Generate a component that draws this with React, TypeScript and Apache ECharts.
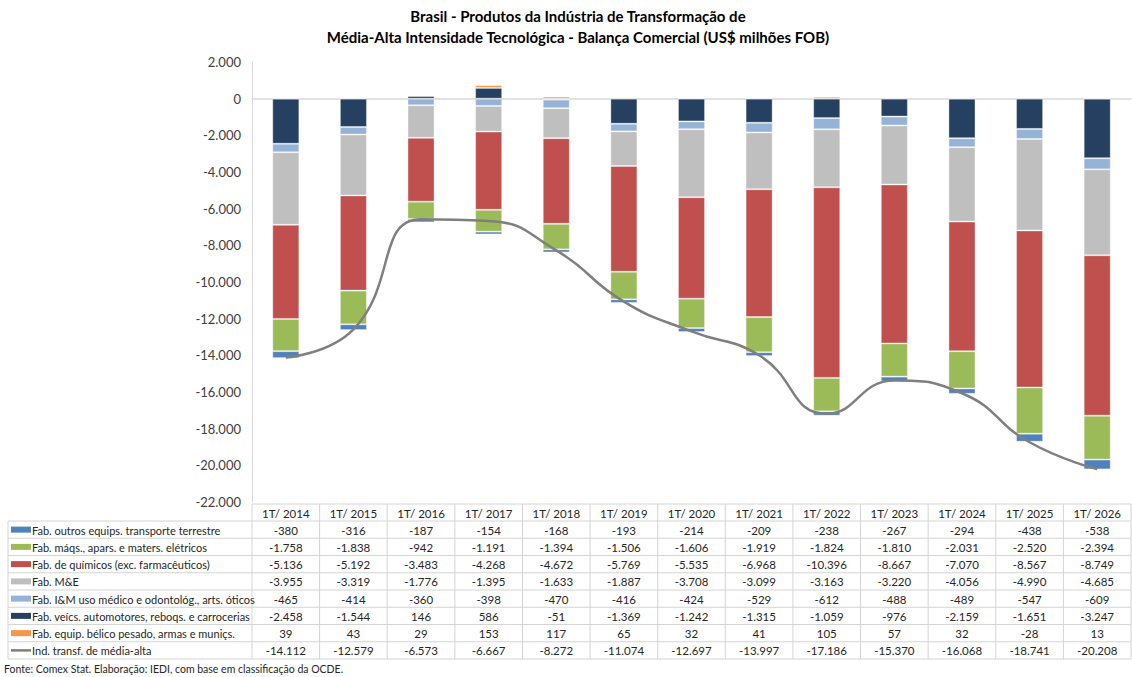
import React, { useEffect, useRef } from "react";
import * as echarts from "echarts";

const categories = ["1T/ 2014", "1T/ 2015", "1T/ 2016", "1T/ 2017", "1T/ 2018", "1T/ 2019", "1T/ 2020", "1T/ 2021", "1T/ 2022", "1T/ 2023", "1T/ 2024", "1T/ 2025", "1T/ 2026"];

const outrosTransp = [-380, -316, -187, -154, -168, -193, -214, -209, -238, -267, -294, -438, -538];
const maqsEletricos = [-1758, -1838, -942, -1191, -1394, -1506, -1606, -1919, -1824, -1810, -2031, -2520, -2394];
const quimicos = [-5136, -5192, -3483, -4268, -4672, -5769, -5535, -6968, -10396, -8667, -7070, -8567, -8749];
const mEe = [-3955, -3319, -1776, -1395, -1633, -1887, -3708, -3099, -3163, -3220, -4056, -4990, -4685];
const iEm = [-465, -414, -360, -398, -470, -416, -424, -529, -612, -488, -489, -547, -609];
const veiculos = [-2458, -1544, 146, 586, -51, -1369, -1242, -1315, -1059, -976, -2159, -1651, -3247];
const belico = [39, 43, 29, 153, 117, 65, 32, 41, 105, 57, 32, -28, 13];
const totalMediaAlta = [-14112, -12579, -6573, -6667, -8272, -11074, -12697, -13997, -17186, -15370, -16068, -18741, -20208];

const yTicks = { min: -22000, max: 2000, interval: 2000 };

const titleLines = [
  "Brasil - Produtos da Indústria de Transformação de",
  "Média-Alta Intensidade Tecnológica - Balança Comercial (US$ milhões FOB)",
];
const sourceNote = "Fonte: Comex Stat. Elaboração: IEDI, com base em classificação da OCDE.";

type Row = { name: string; data: number[]; color: string; kind: "bar" | "line" };

// table order
const rows: Row[] = [
  { name: "Fab. outros equips. transporte terrestre", data: outrosTransp, color: "#4F81BD", kind: "bar" },
  { name: "Fab. máqs., apars. e maters. elétricos", data: maqsEletricos, color: "#9BBB59", kind: "bar" },
  { name: "Fab. de químicos (exc. farmacêuticos)", data: quimicos, color: "#C0504D", kind: "bar" },
  { name: "Fab. M&E", data: mEe, color: "#BFBFBF", kind: "bar" },
  { name: "Fab. I&M uso médico e odontológ., arts. óticos", data: iEm, color: "#95B3D7", kind: "bar" },
  { name: "Fab. veícs. automotores, reboqs. e carrocerias", data: veiculos, color: "#254061", kind: "bar" },
  { name: "Fab. equip. bélico pesado, armas e muniçs.", data: belico, color: "#F79646", kind: "bar" },
  { name: "Ind. transf. de média-alta", data: totalMediaAlta, color: "#7F7F7F", kind: "line" },
];

// stacking order (nearest zero first)
const stackOrder = [5, 4, 3, 2, 1, 0, 6];

const W = 1132;
const H = 677;
const GRID_LEFT = 252;
const GRID_RIGHT = 1;
const GRID_TOP = 62;
const GRID_BOTTOM = 175;
const TABLE_TOP = 504;
const HEADER_H = 17;
const ROW_H = 17.25;
const TABLE_LEFT = 8;
const FONT = "Lato, 'Noto Sans', sans-serif";
const BORDER = "#D4D4D4";
const TXT = "#262626";

function fmt(n: number): string {
  const s = Math.abs(n).toString().replace(/\B(?=(\d{3})+(?!\d))/g, ".");
  return (n < 0 ? "-" : "") + s;
}

function buildTable(): any[] {
  const els: any[] = [];
  const n = categories.length;
  const colW = (W - GRID_LEFT - GRID_RIGHT) / n;
  const right = GRID_LEFT + colW * n;
  const rowsTop = TABLE_TOP + HEADER_H;
  const bottom = rowsTop + ROW_H * rows.length;
  const lineStyle = { stroke: BORDER, lineWidth: 1 };

  els.push({ type: "line", shape: { x1: GRID_LEFT, y1: TABLE_TOP, x2: right, y2: TABLE_TOP }, style: lineStyle, silent: true });
  for (let k = 0; k <= rows.length; k++) {
    const y = rowsTop + ROW_H * k;
    els.push({ type: "line", shape: { x1: TABLE_LEFT, y1: y, x2: right, y2: y }, style: lineStyle, silent: true });
  }
  els.push({ type: "line", shape: { x1: TABLE_LEFT, y1: rowsTop, x2: TABLE_LEFT, y2: bottom }, style: lineStyle, silent: true });
  for (let j = 0; j <= n; j++) {
    const x = GRID_LEFT + colW * j;
    els.push({ type: "line", shape: { x1: x, y1: TABLE_TOP, x2: x, y2: bottom }, style: lineStyle, silent: true });
  }
  categories.forEach((c, i) => {
    els.push({
      type: "text",
      x: GRID_LEFT + colW * (i + 0.5),
      y: TABLE_TOP + HEADER_H / 2 + 0.5,
      style: { text: c, fill: TXT, font: `11.5px ${FONT}`, align: "center", verticalAlign: "middle" },
      silent: true,
    });
  });
  rows.forEach((r, k) => {
    const cy = rowsTop + ROW_H * (k + 0.5);
    if (r.kind === "bar") {
      els.push({ type: "rect", shape: { x: 11, y: cy - 3, width: 20, height: 6 }, style: { fill: r.color }, silent: true });
    } else {
      els.push({ type: "line", shape: { x1: 11, y1: cy, x2: 31, y2: cy }, style: { stroke: r.color, lineWidth: 2.5 }, silent: true });
    }
    els.push({
      type: "text",
      x: 32,
      y: cy + 0.5,
      style: { text: r.name, fill: TXT, font: `11px ${FONT}`, align: "left", verticalAlign: "middle" },
      silent: true,
    });
    r.data.forEach((v, i) => {
      els.push({
        type: "text",
        x: GRID_LEFT + colW * (i + 0.5),
        y: cy + 0.5,
        style: { text: fmt(v), fill: TXT, font: `11.5px ${FONT}`, align: "center", verticalAlign: "middle" },
        silent: true,
      });
    });
  });
  titleLines.forEach((t, i) => {
    els.push({
      type: "text",
      x: 578,
      y: 16 + i * 21,
      style: { text: t, fill: "#000000", font: `bold 15px ${FONT}`, align: "center", verticalAlign: "middle" },
      silent: true,
    });
  });
  els.push({
    type: "text",
    x: 4,
    y: 669,
    style: { text: sourceNote, fill: TXT, font: `10.5px ${FONT}`, align: "left", verticalAlign: "middle" },
    silent: true,
  });
  return els;
}

export default function App() {
  const ref = useRef<HTMLDivElement>(null);
  useEffect(() => {
    document.body.style.margin = "0";
    if (!ref.current) return;
    const chart = echarts.init(ref.current, undefined, { renderer: "svg" });
    const barSeries = stackOrder.map((idx) => {
      const r = rows[idx];
      return {
        type: "bar",
        name: r.name,
        stack: "total",
        data: r.data,
        barWidth: "40%",
        itemStyle: { color: r.color, borderColor: "rgba(255,255,255,0.35)", borderWidth: 1 },
        z: 2,
      };
    });
    const lineRow = rows[7];
    chart.setOption({
      animation: false,
      backgroundColor: "#FFFFFF",
      grid: { left: GRID_LEFT, right: GRID_RIGHT, top: GRID_TOP, bottom: GRID_BOTTOM, containLabel: false },
      xAxis: {
        type: "category",
        data: categories,
        axisLine: { show: true, onZero: true, lineStyle: { color: "#D9D9D9", width: 1.5 } },
        axisTick: { show: false },
        axisLabel: { show: false },
      },
      yAxis: {
        type: "value",
        min: yTicks.min,
        max: yTicks.max,
        interval: yTicks.interval,
        axisLine: { show: true, lineStyle: { color: "#D9D9D9" } },
        axisTick: { show: false },
        splitLine: { show: false },
        axisLabel: {
          formatter: (v: number) => fmt(v),
          color: "#404040",
          fontFamily: FONT,
          fontSize: 13,
          margin: 11,
        },
      },
      series: [
        ...barSeries,
        {
          type: "line",
          name: lineRow.name,
          data: lineRow.data,
          smooth: 0.5,
          showSymbol: false,
          symbol: "none",
          lineStyle: { color: lineRow.color, width: 2.5 },
          z: 5,
        },
      ],
      graphic: buildTable(),
    });
    return () => chart.dispose();
  }, []);
  return <div ref={ref} style={{ position: "fixed", left: 0, top: 0, width: W, height: H }} />;
}
